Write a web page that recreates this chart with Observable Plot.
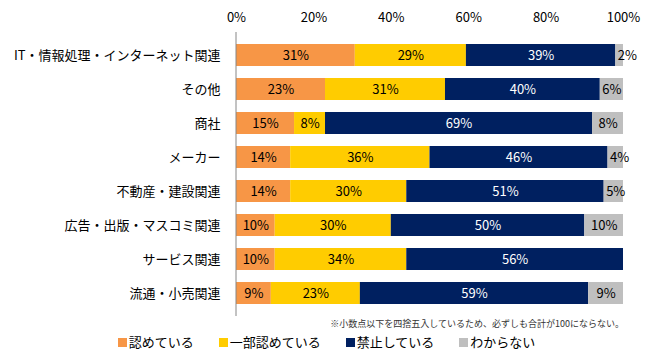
<!DOCTYPE html>
<html>
<head>
<meta charset="utf-8">
<script src="https://cdn.jsdelivr.net/npm/d3@7"></script>
<script src="https://cdn.jsdelivr.net/npm/@observablehq/plot@0.6"></script>
<style>
  body { margin: 0; background: #fff; font-family: "Noto Sans CJK JP", "Noto Sans", sans-serif; }
  #wrap { width: 645px; }
  .note { font-size: 9px; line-height: 12px; text-align: right; padding-right: 21px; color: #333; }
  .legend { display: flex; justify-content: center; gap: 25px; font-size: 13px; line-height: 16px; margin-top: 4px; padding-left: 8px; color: #000; }
  .legend span.item { display: flex; align-items: center; }
  .legend i { display: inline-block; width: 9px; height: 9px; margin-right: 2px; }
</style>
</head>
<body>
<div id="wrap"></div>
<script>
const categories = ["IT・情報処理・インターネット関連", "その他", "商社", "メーカー", "不動産・建設関連", "広告・出版・マスコミ関連", "サービス関連", "流通・小売関連"];
const seriesNames = ["認めている", "一部認めている", "禁止している", "わからない"];
const seriesColors = ["#F79646", "#FFCC00", "#002060", "#BFBFBF"];
const allowed = [31, 23, 15, 14, 14, 10, 10, 9];
const partlyAllowed = [29, 31, 8, 36, 30, 30, 34, 23];
const prohibited = [39, 40, 69, 46, 51, 50, 56, 59];
const unknown = [2, 6, 8, 4, 5, 10, 0, 9];
const xTicks = [0, 0.2, 0.4, 0.6, 0.8, 1];
const noteText = "※小数点以下を四捨五入しているため、必ずしも合計が100にならない。";

const seriesValues = [allowed, partlyAllowed, prohibited, unknown];
const data = [];
categories.forEach((c, i) => {
  seriesNames.forEach((s, j) => {
    data.push({cat: c, series: s, value: seriesValues[j][i]});
  });
});
const isSmallTail = d => d.series === "わからない" && d.value > 0 && d.value < 6;

const font = '"Noto Sans CJK JP", "Noto Sans", sans-serif';
const chart = Plot.plot({
  width: 645,
  height: 318,
  marginLeft: 236,
  marginRight: 22,
  marginTop: 32,
  marginBottom: 2,
  style: {fontFamily: font, fontSize: "13px", color: "#000", background: "#fff"},
  x: {domain: [0, 1], axis: null},
  y: {domain: categories, padding: 0.35, axis: null},
  color: {domain: seriesNames, range: seriesColors},
  marks: [
    Plot.axisX({anchor: "top", ticks: xTicks, tickFormat: d => Math.round(d * 100) + "%", tickSize: 0, tickPadding: 11, label: null, fontSize: 13}),
    Plot.axisY({anchor: "left", tickSize: 0, tickPadding: 16, label: null, fontSize: 13}),
    Plot.barX(data, Plot.stackX({x: "value", y: "cat", z: "series", fill: "series", offset: "normalize", order: seriesNames})),
    Plot.text(data, Plot.stackX({
      x: "value", y: "cat", z: "series", offset: "normalize", order: seriesNames,
      text: d => (d.value > 0 && !isSmallTail(d)) ? d.value + "%" : null,
      fill: d => d.series === "禁止している" ? "#fff" : "#000",
      fontSize: 13
    })),
    Plot.text(data, Plot.stackX1({
      x: "value", y: "cat", z: "series", offset: "normalize", order: seriesNames,
      text: d => isSmallTail(d) ? d.value + "%" : null,
      fill: "#000",
      textAnchor: "start",
      dx: 2,
      fontSize: 13
    })),
    Plot.ruleX([0], {stroke: "#868686", strokeWidth: 1, dx: -0.5})
  ]
});
document.getElementById("wrap").appendChild(chart);

const note = document.createElement("div");
note.className = "note";
note.textContent = noteText;
document.getElementById("wrap").appendChild(note);

const legend = document.createElement("div");
legend.className = "legend";
seriesNames.forEach((s, j) => {
  const item = document.createElement("span");
  item.className = "item";
  const sw = document.createElement("i");
  sw.style.background = seriesColors[j];
  item.appendChild(sw);
  item.appendChild(document.createTextNode(s));
  legend.appendChild(item);
});
document.getElementById("wrap").appendChild(legend);
</script>
</body>
</html>
